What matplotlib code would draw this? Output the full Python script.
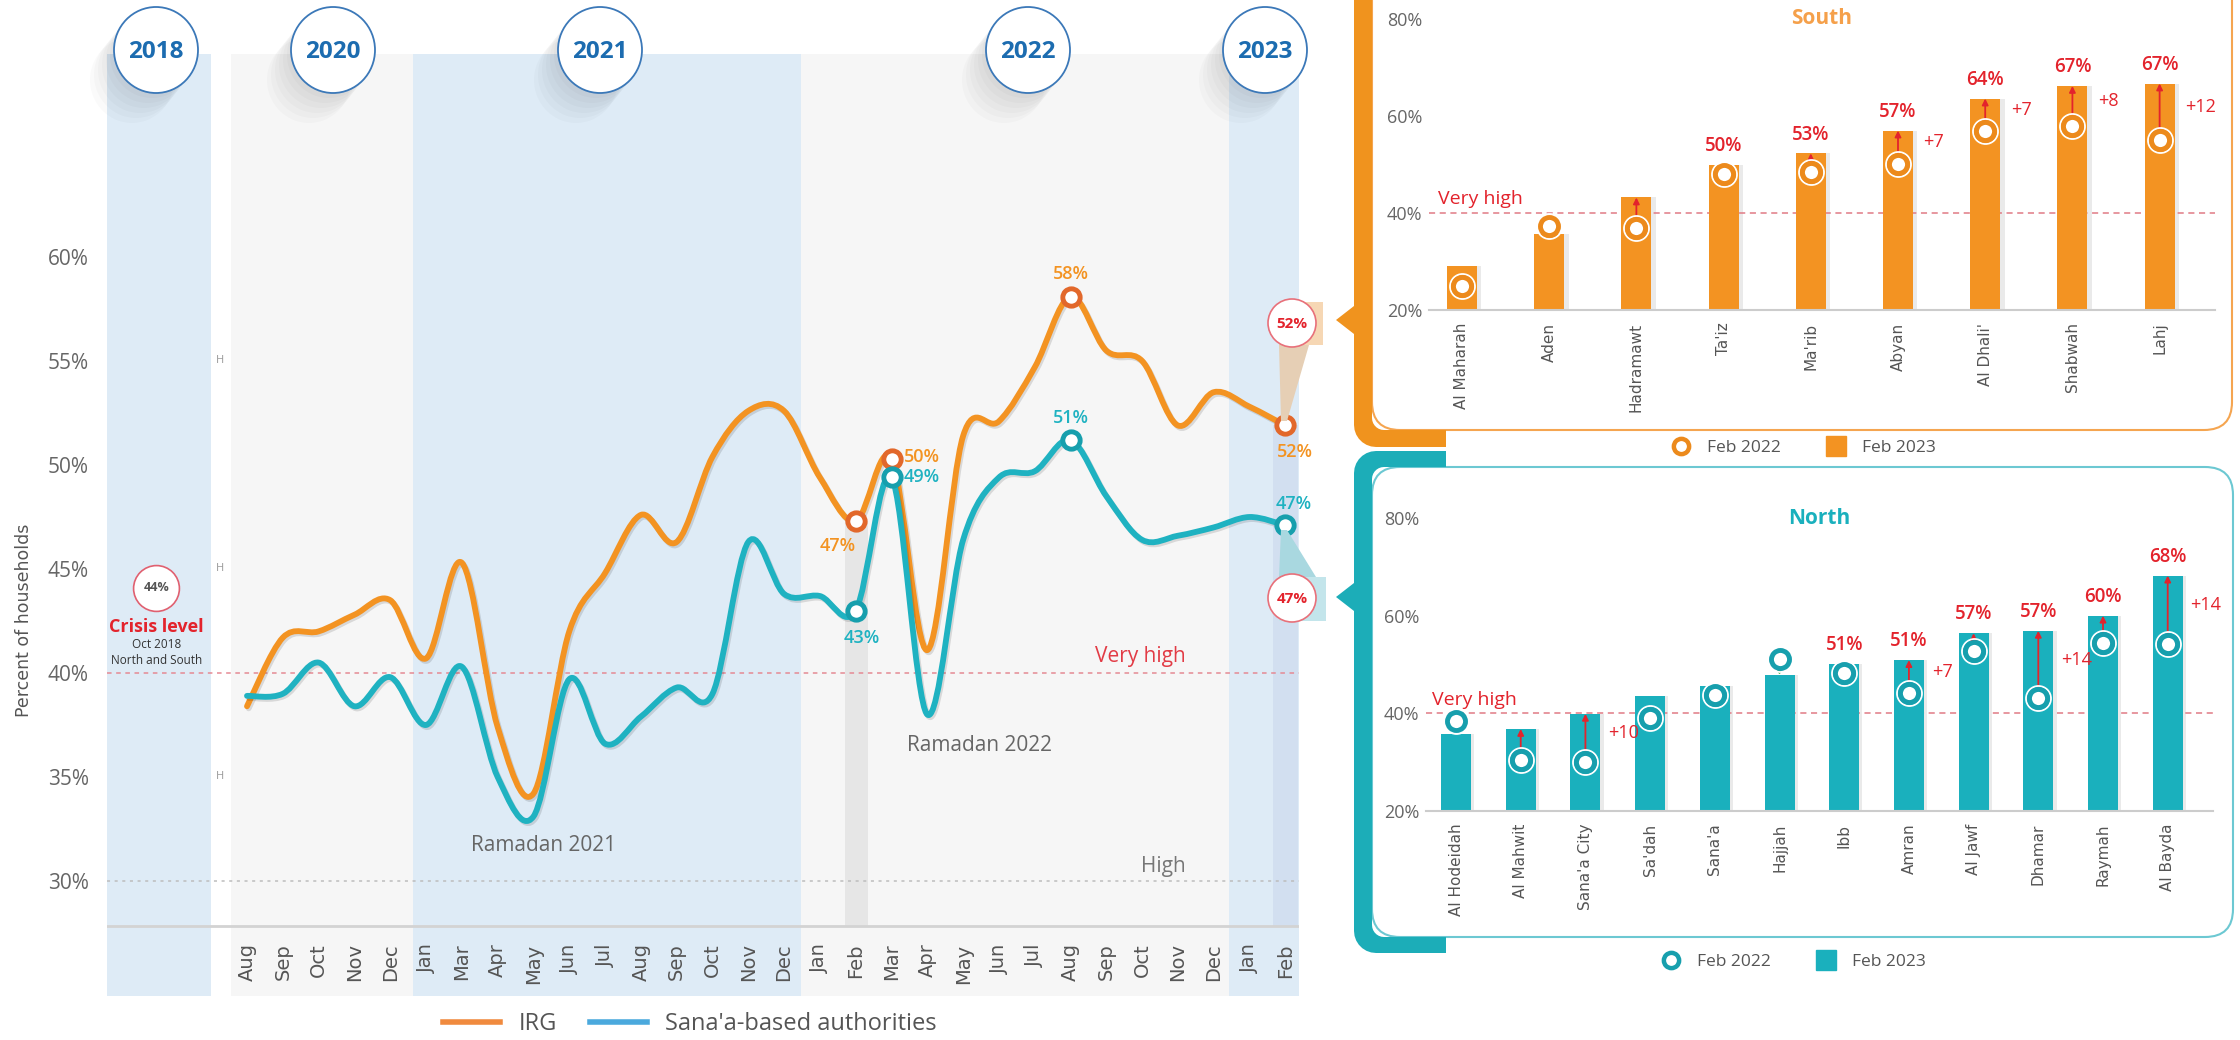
import numpy as np
import matplotlib.pyplot as plt
import matplotlib.patheffects as pe
from matplotlib.path import Path
from matplotlib.patches import PathPatch, Circle, Ellipse, Polygon, FancyBboxPatch
from matplotlib.lines import Line2D

plt.rcParams['font.family'] = ['Open Sans', 'DejaVu Sans']

# ---- data: monthly share of households (%) ----
months = ['Aug', 'Sep', 'Oct', 'Nov', 'Dec',
          'Jan', 'Mar', 'Apr', 'May', 'Jun', 'Jul', 'Aug', 'Sep', 'Oct', 'Nov', 'Dec',
          'Jan', 'Feb', 'Mar', 'Apr', 'May', 'Jun', 'Jul', 'Aug', 'Sep', 'Oct', 'Nov', 'Dec',
          'Jan', 'Feb']
irg = [38.4, 41.7, 42.0, 42.8, 43.5, 40.7, 45.3, 37.4, 34.2, 42.0, 44.8, 47.6, 46.3, 50.4, 52.6,
       52.6, 49.4, 47.3, 50.3, 41.1, 51.4, 52.1, 54.7, 58.1, 55.5, 55.0, 51.9, 53.5, 52.8, 51.9]
sanaa = [38.9, 39.0, 40.5, 38.4, 39.8, 37.5, 40.3, 35.0, 33.1, 39.7, 36.6, 37.9, 39.3, 39.0, 46.3,
         43.8, 43.7, 43.0, 49.4, 38.0, 46.4, 49.4, 49.7, 51.2, 48.5, 46.4, 46.6, 47.0, 47.5, 47.1]
years = ['2018', '2020', '2021', '2022', '2023']
crisis_2018 = 44.1

south_names = ['Al Maharah', 'Aden', 'Hadramawt', "Ta'iz", "Ma'rib", 'Abyan', "Al Dhali'",
               'Shabwah', 'Lahj']
south_2023 = [29.1, 35.6, 43.2, 49.9, 52.3, 57.0, 63.6, 66.2, 66.7]
south_2022 = [24.9, 37.4, 37.0, 48.0, 48.5, 50.1, 57.0, 57.9, 55.1]
south_value_labels = ['', '', '', '50%', '53%', '57%', '64%', '67%', '67%']
south_change_labels = ['', '', '', '', '', '+7', '+7', '+8', '+12']
south_arrows = [0, 0, 1, 0, 1, 1, 1, 1, 1]

north_names = ['Al Hodeidah', 'Al Mahwit', "Sana'a City", "Sa'dah", "Sana'a", 'Hajjah', 'Ibb',
               'Amran', 'Al Jawf', 'Dhamar', 'Raymah', 'Al Bayda']
north_2023 = [35.8, 36.8, 39.9, 43.5, 45.6, 47.9, 50.2, 50.9, 56.4, 56.9, 60.0, 68.2]
north_2022 = [38.4, 30.4, 30.0, 39.1, 43.7, 51.2, 48.2, 44.2, 52.8, 43.1, 54.5, 54.1]
north_value_labels = ['', '', '', '', '', '', '51%', '51%', '57%', '57%', '60%', '68%']
north_change_labels = ['', '', '+10', '', '', '', '', '+7', '', '+14', '', '+14']
north_arrows = [0, 1, 1, 0, 0, -1, 0, 1, 1, 1, 1, 1]

# ---- style ----
ORANGE = '#f39322'
ORANGE_RING = '#e2682b'
TEAL = '#1fb2c1'
TEAL_RING = '#179fad'
BLUE_BAND = '#deebf6'
GREY_BAND = '#f6f6f6'
RED = '#e3232c'
GREY_TXT = '#666666'

W, H = 2240, 1040
fig = plt.figure(figsize=(W / 100, H / 100), dpi=100)


def fig_rect(l, t, r, b):
    return [l / W, 1 - b / H, (r - l) / W, (b - t) / H]


def pixel_axes(z, name):
    a = fig.add_axes([0, 0, 1, 1], zorder=z, label=name)
    a.set_xlim(0, W)
    a.set_ylim(H, 0)
    a.axis('off')
    return a


def smooth_path(xs, ys):
    p = np.column_stack([xs, ys]).astype(float)
    pm = np.vstack([p[0], p, p[-1]])
    verts = [p[0]]
    codes = [Path.MOVETO]
    for i in range(len(p) - 1):
        p0, p1, p2, p3 = pm[i], pm[i + 1], pm[i + 2], pm[i + 3]
        verts += [p1 + (p2 - p0) / 6, p2 - (p3 - p1) / 6, p2]
        codes += [Path.CURVE4] * 3
    return Path(verts, codes)


def arc(cx, cy, r, a0, a1, n=8):
    t = np.radians(np.linspace(a0, a1, n))
    return list(zip(cx + r * np.cos(t), cy + r * np.sin(t)))


bg = pixel_axes(0, 'bg')
top = pixel_axes(10, 'top')

# ---------------- main line chart ----------------
ax = fig.add_axes(fig_rect(107, 54, 1299, 996), zorder=1)
ax.set_xlim(-3.91, 29.38)
ax.set_ylim(24.47, 69.76)
for s in ax.spines.values():
    s.set_visible(False)
ax.set_xticks([])
ax.set_yticks(range(30, 61, 5))
ax.set_yticklabels([f'{v}%' for v in range(30, 61, 5)])
ax.tick_params(axis='y', length=0, pad=13, labelsize=15, labelcolor=GREY_TXT)

bands = [(-3.91, -1.01, BLUE_BAND), (-0.46, 4.63, GREY_BAND), (4.63, 15.47, BLUE_BAND),
         (15.47, 27.43, GREY_BAND), (27.43, 29.38, BLUE_BAND)]
for a, b, c in bands:
    ax.axvspan(a, b, color=c, lw=0, zorder=0)

x = np.arange(len(months))
ax.fill_between([16.7, 17.35], 27.84, irg[17], color='#e6e6e6', lw=0, zorder=0.5)
ax.fill_between([28.66, 29.35], 27.84, irg[29], color='#d2dff0', lw=0, zorder=0.5)

ax.axhline(27.84, color='#d3d3d3', lw=2, zorder=1)
ax.axhline(40, color='#e58a94', lw=1.1, ls=(0, (3, 3)), zorder=1)
ax.axhline(30, color='#bdbdbd', lw=1.1, ls=(0, (2, 3)), zorder=1)

shadow = [pe.SimpleLineShadow(offset=(1.2, -1.5), shadow_color='k', alpha=0.12), pe.Normal()]
for vals, col in [(irg, ORANGE), (sanaa, TEAL)]:
    ax.add_patch(PathPatch(smooth_path(x, vals), fc='none', ec=col, lw=4.2, capstyle='round',
                           joinstyle='round', zorder=3, path_effects=shadow))

marked = [17, 18, 23, 29]
ax.plot(x[marked], np.array(irg)[marked], 'o', ms=12.5, mfc='white', mec=ORANGE_RING, mew=3.5, zorder=5)
ax.plot(x[marked], np.array(sanaa)[marked], 'o', ms=12.5, mfc='white', mec=TEAL_RING, mew=3.5, zorder=5)

lab = dict(fontsize=13, fontweight='semibold', textcoords='offset points', zorder=6)
ax.annotate(f'{irg[17]:.0f}%', (17, irg[17]), xytext=(-13, -18), ha='center', va='center', color=ORANGE, **lab)
ax.annotate(f'{irg[18]:.0f}%', (18, irg[18]), xytext=(9, 1), ha='left', va='center', color=ORANGE, **lab)
ax.annotate(f'{irg[23]:.0f}%', (23, irg[23]), xytext=(0, 16), ha='center', va='center', color=ORANGE, **lab)
ax.annotate(f'{irg[29]:.0f}%', (29, irg[29]), xytext=(7, -19), ha='center', va='center', color=ORANGE, **lab)
ax.annotate(f'{sanaa[17]:.0f}%', (17, sanaa[17]), xytext=(4, -20), ha='center', va='center', color=TEAL, **lab)
ax.annotate(f'{sanaa[18]:.0f}%', (18, sanaa[18]), xytext=(9, 0), ha='left', va='center', color=TEAL, **lab)
ax.annotate(f'{sanaa[23]:.0f}%', (23, sanaa[23]), xytext=(0, 16), ha='center', va='center', color=TEAL, **lab)
ax.annotate(f'{sanaa[29]:.0f}%', (29, sanaa[29]), xytext=(6, 15), ha='center', va='center', color=TEAL, **lab)

for i, m in enumerate(months):
    ax.text(i, 27.0, m, rotation=90, ha='center', va='top', fontsize=14, color='#555555',
            family='DejaVu Sans')

ax.text(8.27, 31.7, 'Ramadan 2021', ha='center', va='center', fontsize=15, color=GREY_TXT)
ax.text(20.47, 36.5, 'Ramadan 2022', ha='center', va='center', fontsize=15, color=GREY_TXT)
ax.text(24.94, 40.8, 'Very high', ha='center', va='center', fontsize=15, color='#e23b45')
ax.text(25.6, 30.7, 'High', ha='center', va='center', fontsize=15, color='#777777')
for yv in (55, 45, 35):
    ax.text(-0.75, yv, 'H', ha='center', va='center', fontsize=8, color='#999999')

ax.plot([-2.53], [crisis_2018], 'o', ms=33, mfc='white', mec='#e06070', mew=1.2, zorder=5)
ax.text(-2.53, crisis_2018, f'{crisis_2018:.0f}%', ha='center', va='center', fontsize=9,
        fontweight='bold', color='#555555', zorder=6)
ax.text(-2.53, 42.2, 'Crisis level', ha='center', va='center', fontsize=13, fontweight='bold', color=RED)
ax.text(-2.53, 41.35, 'Oct 2018', ha='center', va='center', fontsize=8.5, color='#333333')
ax.text(-2.53, 40.6, 'North and South', ha='center', va='center', fontsize=8.5, color='#333333')

fig.text(24 / W, 1 - 620 / H, 'Percent of households', rotation=90, ha='center', va='center',
         fontsize=12.5, color='#555555', family='DejaVu Sans')

fig.legend(handles=[Line2D([], [], color='#f08a3e', lw=4), Line2D([], [], color='#4ba9dd', lw=4)],
           labels=['IRG', "Sana'a-based authorities"], loc='center', ncol=2, frameon=False,
           bbox_to_anchor=(690 / W, 1 - 1024 / H), fontsize=17, handlelength=2.4,
           columnspacing=1.4, labelcolor='#555555')

# year bubbles
for yr, cx in zip(years, [156, 333, 600, 1028, 1265]):
    for k in range(1, 7):
        top.add_patch(Ellipse((cx - 4 * k, 50 + 5 * k), 84, 86, color='k', alpha=0.018, lw=0))
    top.add_patch(Ellipse((cx, 50), 84, 86, fc='white', ec='#3b78b8', lw=1.3))
    top.text(cx, 52, yr, ha='center', va='center', fontsize=17.5, fontweight='bold', color='#1c6cb0')

# connectors from Feb 2023 points to the regional panels
top.add_patch(Polygon([(1281, 421), (1287, 421), (1309, 345), (1279, 345)], color='#e6cfb5', lw=0))
top.add_patch(Polygon([(1279, 302), (1323, 302), (1323, 345), (1279, 345)], color='#f6d7b4', lw=0))
top.add_patch(Polygon([(1281, 530), (1287, 530), (1316, 577), (1279, 577)], color='#a9d8e0', lw=0))
top.add_patch(Polygon([(1279, 577), (1326, 577), (1326, 621), (1279, 621)], color='#c3e5eb', lw=0))
for cy, txt in [(323, f'{irg[29]:.0f}%'), (598, f'{sanaa[29]:.0f}%')]:
    top.add_patch(Circle((1292, cy), 24, fc='white', ec='#e8707a', lw=1.2))
    top.text(1292, cy + 1, txt, ha='center', va='center', fontsize=11, fontweight='bold', color=RED)

# ---------------- regional panels: boxes and brackets ----------------
bg.add_patch(FancyBboxPatch((1372, -30), 860, 460, boxstyle='round,pad=0,rounding_size=28',
                            fc='white', ec='#f5a550', lw=1.5))
bg.add_patch(FancyBboxPatch((1372, 467), 861, 470, boxstyle='round,pad=0,rounding_size=28',
                            fc='white', ec='#6cc8d2', lw=1.5))

south_br = ([(1372, -30), (1354, -30), (1354, 306), (1336, 320), (1354, 334)]
            + arc(1376, 425, 22, 180, 90) + [(1446, 447), (1446, 430)]
            + arc(1384, 418, 12, 90, 180))
bg.add_patch(Polygon(south_br, closed=True, color='#f0931e', lw=0))
north_br = ([(1446, 451)] + arc(1376, 473, 22, 270, 180) + [(1354, 583), (1336, 597), (1354, 611)]
            + arc(1376, 931, 22, 180, 90) + [(1446, 953), (1446, 937)]
            + arc(1384, 925, 12, 90, 180) + arc(1384, 479, 12, 180, 270) + [(1446, 467)])
bg.add_patch(Polygon(north_br, closed=True, color='#1cadb8', lw=0))


def bar_panel(rect, xlim, names, v23, v22, vlabels, clabels, arrows, color, ring, width,
              title, title_color, legend_xy):
    a = fig.add_axes(fig_rect(*rect), zorder=2)
    a.set_facecolor('none')
    a.set_xlim(*xlim)
    a.set_ylim(20, 80)
    for side in ('top', 'right', 'left'):
        a.spines[side].set_visible(False)
    a.spines['bottom'].set_color('#cccccc')
    a.spines['bottom'].set_linewidth(1.5)
    xs = np.arange(len(names))
    a.bar(xs + 0.05, v23, width=width, color='#555555', alpha=0.12, zorder=1)
    a.bar(xs, v23, width=width, color=color, zorder=2)
    a.axhline(40, color='#e07a85', lw=1.1, ls=(0, (4, 3)), zorder=1.5)
    a.text(xlim[0] + 0.1, 42.8, 'Very high', ha='left', va='center', fontsize=14, color=RED)
    a.plot(xs, v22, 'o', ms=18, mfc='none', mec='white', mew=1.3, zorder=4)
    a.plot(xs, v22, 'o', ms=13, mfc='white', mec=ring, mew=3.5, zorder=5)
    for k in range(len(names)):
        if arrows[k] == 1:
            a.annotate('', xy=(k, v23[k]), xytext=(k, v22[k] + 1.8),
                       arrowprops=dict(arrowstyle='-|>', color=RED, lw=1.3, mutation_scale=9,
                                       shrinkA=0, shrinkB=0), zorder=3)
        elif arrows[k] == -1:
            a.annotate('', xy=(k, v23[k]), xytext=(k, v22[k] - 1.8),
                       arrowprops=dict(arrowstyle='-|>', color='#3aaa35', lw=1.3, mutation_scale=8,
                                       shrinkA=0, shrinkB=0), zorder=3)
        if vlabels[k]:
            a.text(k, v23[k] + 1.8, vlabels[k], ha='center', va='bottom', fontsize=13.5,
                   fontweight='semibold', color=RED, zorder=6)
        if clabels[k]:
            a.text(k + width / 2 + 0.12, (v23[k] + v22[k]) / 2 + 1, clabels[k], ha='left',
                   va='center', fontsize=13, color=RED, zorder=6)
    a.text(np.mean(xlim), 80, title, ha='center', va='center', fontsize=15, fontweight='bold',
           color=title_color)
    a.set_yticks([20, 40, 60, 80])
    a.set_yticklabels(['20%', '40%', '60%', '80%'])
    a.set_xticks(xs)
    a.set_xticklabels(names, rotation=90, fontsize=11, color='#555555', family='DejaVu Sans')
    a.tick_params(axis='y', length=0, pad=5, labelsize=13, labelcolor=GREY_TXT)
    a.tick_params(axis='x', length=0, pad=9)
    handles = [Line2D([], [], marker='o', ls='none', ms=11, mfc='white', mec=ring, mew=3.2),
               Line2D([], [], marker='s', ls='none', ms=14, color=color)]
    a.legend(handles, ['Feb 2022', 'Feb 2023'], loc='center', ncol=2, frameon=False,
             bbox_to_anchor=(legend_xy[0] / W, 1 - legend_xy[1] / H), bbox_transform=fig.transFigure,
             fontsize=12.5, labelcolor='#555555', handletextpad=0.5, columnspacing=2.2)
    return a


bar_panel((1429, 19, 2215, 310), (-0.378, 8.635), south_names, south_2023, south_2022,
          south_value_labels, south_change_labels, south_arrows, ORANGE, '#ec8a1c', 0.344,
          'South', '#f5a04a', (1800, 448))
bar_panel((1426, 518, 2213, 811), (-0.464, 11.70), north_names, north_2023, north_2022,
          north_value_labels, north_change_labels, north_arrows, '#1ab0bd', TEAL_RING, 0.464,
          'North', '#1ab0bd', (1790, 962))

fig.savefig('out.png', dpi=100)
